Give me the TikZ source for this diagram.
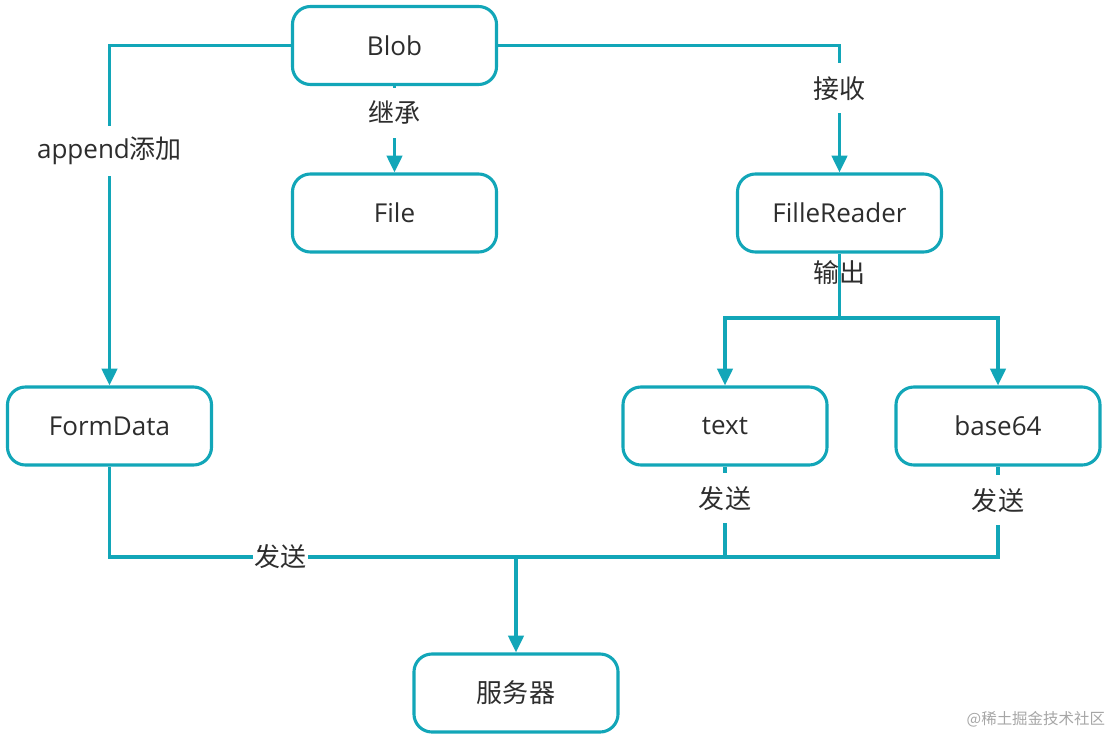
\documentclass[tikz,border=0pt]{standalone}
\usepackage{fontspec}
\setmainfont{Open Sans}
\newfontfamily\cjk[Scale=1.0]{Noto Sans CJK SC}
\usepackage{xcolor}
\usepackage{tikz}
\usetikzlibrary{arrows.meta,positioning}
\definecolor{teal}{RGB}{18,166,184}
\definecolor{ink}{RGB}{45,45,45}

\begin{document}
\begin{tikzpicture}[x=0.025cm,y=-0.025cm,
        box/.style={draw=teal,line width=2.2pt,rounded corners=0.45cm,fill=white,
            minimum width=5.1cm,minimum height=1.95cm,text=ink,font=\fontsize{18.5pt}{22pt}\selectfont},
        link/.style={draw=teal,line width=2.2pt},
        arrow/.style={link,-{Triangle[length=12pt,width=11pt]}},
        lbl/.style={fill=white,inner xsep=1pt,inner ysep=0pt,minimum height=1.25cm,text=ink,
            font=\fontsize{18.5pt}{22pt}\selectfont}]
        \useasboundingbox (0,0) rectangle (1112,738);

        % Boxes
        \foreach \name/\x/\y/\txt in {blob/394.5/45.5/Blob,file/394.5/213/File,
            reader/839.5/213/FilleReader,formdata/109.5/426/FormData,
            text/725/426/text,base64/998/426/base64,server/516/693/{\cjk 服务器}} {
            \node[box] (\name) at (\x,\y) {\txt};
        }

        % Junctions
        \coordinate (split) at (839.5,318);
        \coordinate (bus) at (516,557);

        % From Blob
        \draw[arrow] (blob.west) -| node[pos=0.655,lbl]{append{\cjk 添加}} (formdata.north);
        \draw[arrow] (blob.south) -- node[pos=0.31,lbl]{\cjk 继承} (file.north);
        \draw[arrow] (blob.east) -| node[pos=0.668,lbl]{\cjk 接收} (reader.north);

        % Reader outputs
        \draw[link] (reader.south) -- node[pos=0.29,text=ink,font=\fontsize{18.5pt}{22pt}\selectfont]{\cjk 输出} (split);
        \draw[arrow] (split) -| (text.north);
        \draw[arrow] (split) -| (base64.north);

        % Send to server
        \draw[link] (formdata.south) |- node[pos=0.71,lbl,minimum height=0pt,inner ysep=2pt]{\cjk 发送} (bus);
        \draw[link] (text.south) |- node[pos=0.176,lbl]{\cjk 发送} (bus);
        \draw[link] (base64.south) |- node[pos=0.187,lbl]{\cjk 发送} (bus);
        \draw[arrow] (bus) -- (server.north);

        % Watermark
        \node[anchor=east,text=black!35,font=\fontsize{11pt}{13pt}\selectfont] (mark) at (1110,719) {\cjk @稀土掘金技术社区};
\end{tikzpicture}
\end{document}
